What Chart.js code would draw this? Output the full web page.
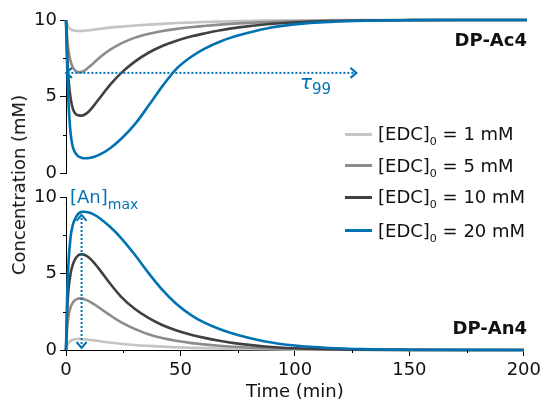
<!DOCTYPE html>
<html>
<head>
<meta charset="utf-8">
<script src="https://cdn.jsdelivr.net/npm/chart.js@4.4.1/dist/chart.umd.min.js"></script>
<style>
  body { margin: 0; background: #fff; }
  #wrap { position: relative; width: 545px; height: 405px; font-family: "DejaVu Sans", sans-serif; color: #111; }
  #wrap canvas { position: absolute; left: 0; top: 0; }
  .lbl { position: absolute; white-space: nowrap; line-height: 18px; font-size: 18px; }
  .lbl sub { font-size: 11px; vertical-align: -5px; line-height: 0; }
  .swatch { display: inline-block; width: 27px; height: 3px; vertical-align: middle; margin-right: 6px; position: relative; top: -1px; }
  .blue { color: #0072b2; }
</style>
</head>
<body>
<div id="wrap">
  <canvas id="topChart" width="545" height="405"></canvas>
  <canvas id="botChart" width="545" height="405"></canvas>
  <div class="lbl" id="ytitle" style="left:19px; top:185px; transform:translate(-50%,-50%) rotate(-90deg);">Concentration (mM)</div>
  <div class="lbl" style="right:18px; top:31px; font-weight:bold;">DP-Ac4</div>
  <div class="lbl" style="right:18px; top:319px; font-weight:bold;">DP-An4</div>
  <div class="lbl blue" style="left:300px; top:72px; font-size:20px; line-height:20px;"><i>τ</i><sub style="font-size:15px; vertical-align:-5px;">99</sub></div>
  <div class="lbl blue" style="left:70px; top:188px;">[An]<sub style="font-size:14px; vertical-align:-6px;">max</sub></div>
  <div id="legend"></div>
</div>
<script>
// time axis (min) shared by all curves
var timeMin = [0, 0.5, 1, 2, 3, 4, 5, 6, 7, 8, 10, 12, 15, 19, 24, 30, 36, 42, 48, 55, 60, 67, 75, 87, 100, 115, 130, 150, 175, 200];

// DP-Ac4 (top panel), mM
var ac4_1mM  = [10, 9.75, 9.55, 9.4, 9.33, 9.3, 9.28, 9.28, 9.29, 9.3, 9.33, 9.37, 9.43, 9.5, 9.57, 9.64, 9.7, 9.75, 9.8, 9.84, 9.87, 9.9, 9.93, 9.96, 9.98, 9.99, 10, 10, 10, 10];
var ac4_5mM  = [10, 8.9, 8.1, 7.3, 6.9, 6.7, 6.6, 6.6, 6.63, 6.7, 6.93, 7.2, 7.6, 8.05, 8.48, 8.85, 9.1, 9.28, 9.42, 9.54, 9.61, 9.7, 9.78, 9.86, 9.92, 9.96, 9.98, 10, 10, 10];
var ac4_10mM = [10, 7.8, 6.3, 4.9, 4.2, 3.9, 3.8, 3.76, 3.77, 3.82, 4.05, 4.4, 4.98, 5.75, 6.55, 7.3, 7.88, 8.32, 8.65, 8.95, 9.12, 9.33, 9.52, 9.72, 9.85, 9.93, 9.97, 9.99, 10, 10];
var ac4_20mM = [10, 7.0, 4.9, 2.6, 1.7, 1.35, 1.15, 1.05, 1.0, 0.98, 1.0, 1.07, 1.25, 1.62, 2.25, 3.22, 4.45, 5.72, 6.83, 7.67, 8.12, 8.6, 9.0, 9.45, 9.73, 9.88, 9.95, 9.99, 10, 10];

// DP-An4 (bottom panel), mM
var an4_1mM  = [0, 0.3, 0.45, 0.6, 0.67, 0.7, 0.72, 0.72, 0.71, 0.7, 0.67, 0.63, 0.57, 0.49, 0.41, 0.33, 0.27, 0.22, 0.18, 0.14, 0.12, 0.095, 0.07, 0.045, 0.025, 0.012, 0.005, 0, 0, 0];
var an4_5mM  = [0, 1.4, 2.1, 2.8, 3.1, 3.27, 3.35, 3.38, 3.37, 3.33, 3.2, 3.02, 2.72, 2.3, 1.82, 1.38, 1.03, 0.78, 0.6, 0.45, 0.37, 0.28, 0.2, 0.12, 0.065, 0.03, 0.012, 0.004, 0, 0];
var an4_10mM = [0, 2.5, 3.8, 5.0, 5.6, 5.95, 6.15, 6.25, 6.27, 6.24, 6.05, 5.75, 5.2, 4.4, 3.5, 2.7, 2.1, 1.64, 1.3, 0.99, 0.81, 0.6, 0.42, 0.23, 0.11, 0.045, 0.02, 0.005, 0, 0];
var an4_20mM = [0, 3.5, 5.5, 7.4, 8.2, 8.6, 8.85, 9.0, 9.05, 9.05, 9.0, 8.88, 8.6, 8.1, 7.35, 6.25, 5.05, 3.95, 3.05, 2.25, 1.82, 1.37, 0.98, 0.56, 0.29, 0.13, 0.055, 0.02, 0.005, 0];

var doses = [1, 5, 10, 20];
var colors = ["#c4c4c4", "#8c8c8c", "#404040", "#0072b2"];

var yMajor = [0, 5, 10];
var yMinor = [2.5, 7.5];
var xMajor = [0, 50, 100, 150, 200];
var xMinor = [25, 75, 125, 175];

// annotation arrows
var tauLevel = 6.55, tauStart = 0.6, tauEnd = 126;
var anTime = 6.8, anBottom = 0.13, anTop = 8.85;

var blue = colors[3];
var fontSpec = { family: "DejaVu Sans", size: 18 };

function toXY(ys) {
  return timeMin.map(function (t, i) { return { x: t, y: ys[i] }; });
}

function curveSets(series) {
  return series.map(function (ys, i) {
    return {
      data: toXY(ys),
      borderColor: colors[i],
      borderWidth: 2.6,
      pointRadius: 0,
      cubicInterpolationMode: "monotone",
      clip: false,
      order: 4 - i
    };
  });
}

// short minor ticks, Chart.js has no minor ticks of its own
var minorTicks = {
  id: "minorTicks",
  afterDraw: function (chart) {
    var ctx = chart.ctx;
    var ys = chart.scales.y, xs = chart.scales.x;
    ctx.save();
    ctx.strokeStyle = "#000";
    ctx.lineWidth = 1;
    yMinor.forEach(function (v) {
      var p = Math.round(ys.getPixelForValue(v)) + 0.5;
      ctx.beginPath(); ctx.moveTo(chart.chartArea.left - 3, p); ctx.lineTo(chart.chartArea.left, p); ctx.stroke();
    });
    if (xs.options.display) {
      xMinor.forEach(function (v) {
        var p = Math.round(xs.getPixelForValue(v)) + 0.5;
        ctx.beginPath(); ctx.moveTo(p, chart.chartArea.bottom); ctx.lineTo(p, chart.chartArea.bottom + 3); ctx.stroke();
      });
    }
    ctx.restore();
  }
};

// open chevron heads for the dotted arrows
var arrowHeads = {
  id: "arrowHeads",
  afterDatasetsDraw: function (chart, args, opts) {
    var ctx = chart.ctx;
    ctx.save();
    ctx.strokeStyle = blue;
    ctx.lineWidth = 2;
    (opts.heads || []).forEach(function (h) {
      var px = chart.scales.x.getPixelForValue(h.x);
      var py = chart.scales.y.getPixelForValue(h.y);
      var d = { left: [-1, 0], right: [1, 0], up: [0, -1], down: [0, 1] }[h.dir];
      var bx = px - d[0] * 6, by = py - d[1] * 6;
      ctx.beginPath();
      ctx.moveTo(bx - d[1] * 5, by - d[0] * 5);
      ctx.lineTo(px, py);
      ctx.lineTo(bx + d[1] * 5, by + d[0] * 5);
      ctx.stroke();
    });
    ctx.restore();
  }
};

function yScale() {
  return {
    type: "linear",
    min: 0, max: 10,
    afterFit: function (s) { s.width = 66; },
    afterBuildTicks: function (s) { s.ticks = yMajor.map(function (v) { return { value: v }; }); },
    ticks: { font: fontSpec, color: "#111", padding: 3 },
    grid: { drawOnChartArea: false, color: "#000", tickLength: 6 },
    border: { color: "#000", width: 1 }
  };
}

function xScale(show) {
  return {
    type: "linear",
    min: 0, max: 200,
    display: show,
    afterFit: function (s) { if (show) s.height = 55; },
    afterBuildTicks: function (s) { s.ticks = xMajor.map(function (v) { return { value: v }; }); },
    ticks: { font: fontSpec, color: "#111", padding: 4, maxRotation: 0 },
    grid: { drawOnChartArea: false, color: "#000", tickLength: 6 },
    border: { color: "#000", width: 1 },
    title: { display: true, text: "Time (min)", font: fontSpec, color: "#111", padding: { top: 0, bottom: 2 } }
  };
}

function dotted(points) {
  return {
    data: points,
    borderColor: blue,
    borderWidth: 2,
    borderDash: [2, 2],
    pointRadius: 0,
    clip: false,
    order: 0
  };
}

var topSets = curveSets([ac4_1mM, ac4_5mM, ac4_10mM, ac4_20mM]);
topSets.push(dotted([{ x: tauStart, y: tauLevel }, { x: tauEnd, y: tauLevel }]));

new Chart(document.getElementById("topChart"), {
  type: "line",
  data: { datasets: topSets },
  options: {
    responsive: false, animation: false, devicePixelRatio: 1,
    layout: { padding: { left: 0, right: 18, top: 20, bottom: 231.7 } },
    scales: { x: xScale(false), y: yScale() },
    plugins: {
      legend: { display: false }, tooltip: { enabled: false },
      arrowHeads: { heads: [{ x: 0, y: tauLevel, dir: "left" }, { x: tauEnd, y: tauLevel, dir: "right" }] }
    }
  },
  plugins: [minorTicks, arrowHeads]
});

var botSets = curveSets([an4_1mM, an4_5mM, an4_10mM, an4_20mM]);
botSets.push(dotted([{ x: anTime, y: anBottom }, { x: anTime, y: anTop }]));

new Chart(document.getElementById("botChart"), {
  type: "line",
  data: { datasets: botSets },
  options: {
    responsive: false, animation: false, devicePixelRatio: 1,
    layout: { padding: { left: 0, right: 18, top: 197.3, bottom: 0 } },
    scales: { x: xScale(true), y: yScale() },
    plugins: {
      legend: { display: false }, tooltip: { enabled: false },
      arrowHeads: { heads: [{ x: anTime, y: anTop, dir: "up" }, { x: anTime, y: anBottom, dir: "down" }] }
    }
  },
  plugins: [minorTicks, arrowHeads]
});

// legend drawn as html so the subscript stays real text
var legendTops = [125, 156.5, 188, 221.5];
var legend = document.getElementById("legend");
doses.forEach(function (d, i) {
  var row = document.createElement("div");
  row.className = "lbl";
  row.style.left = "345px";
  row.style.top = legendTops[i] + "px";
  row.innerHTML = '<span class="swatch" style="background:' + colors[i] + '"></span>[EDC]<sub>0</sub> = ' + d + " mM";
  legend.appendChild(row);
});
</script>
</body>
</html>
